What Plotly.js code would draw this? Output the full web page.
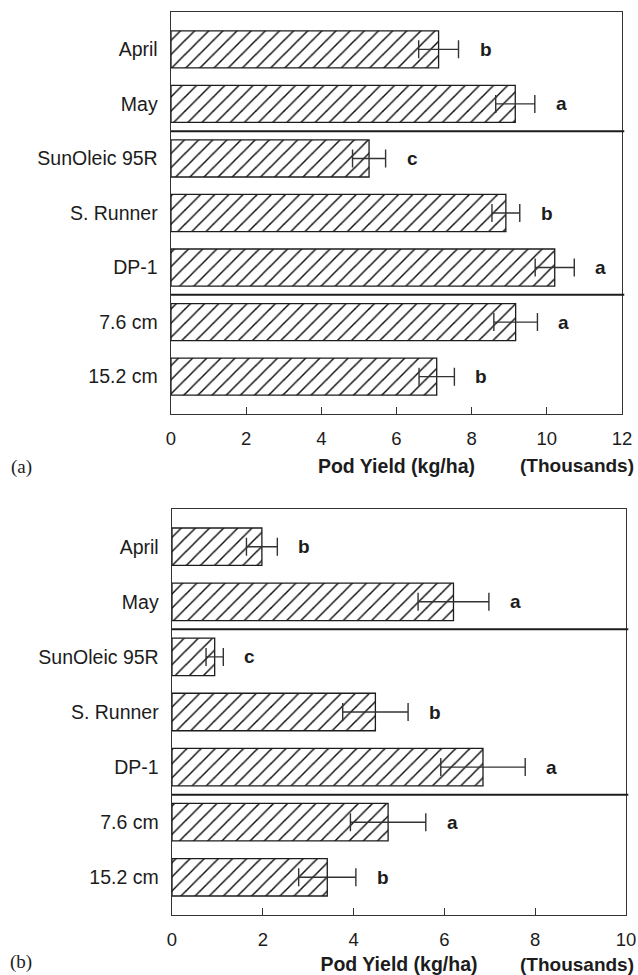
<!DOCTYPE html>
<html>
<head>
<meta charset="utf-8">
<script src="https://cdn.plot.ly/plotly-3.0.1.min.js"></script>
<style>
  html, body { margin: 0; padding: 0; background: #fff; }
  #chart { width: 638px; height: 975px; }
</style>
</head>
<body>
<div id="chart"></div>
<script>
// Treatments, listed top to bottom
const categories = ['April', 'May', 'SunOleic 95R', 'S. Runner', 'DP-1', '7.6 cm', '15.2 cm'];
// Treatment groups: planting date, cultivar, seeding depth
const groupSizes = [2, 3, 2];

// (a) pod yield, thousands of kg/ha, with error half-widths
const yieldA = [7.12, 9.16, 5.27, 8.91, 10.21, 9.17, 7.07];
const errorA = [0.53, 0.52, 0.44, 0.37, 0.52, 0.58, 0.47];
const lettersA = ['b', 'a', 'c', 'b', 'a', 'a', 'b'];

// (b) pod yield, thousands of kg/ha, with error half-widths
const yieldB = [1.98, 6.20, 0.94, 4.48, 6.85, 4.76, 3.42];
const errorB = [0.34, 0.78, 0.19, 0.72, 0.93, 0.83, 0.63];
const lettersB = ['b', 'a', 'c', 'b', 'a', 'a', 'b'];

const W = 638, H = 975;
const FONT = '"Liberation Sans", Arial, sans-serif';
const SERIF = '"Liberation Serif", "Times New Roman", serif';
const INK = '#1c1c1c';

function barTrace(values, errors, xa, ya) {
  return {
    type: 'bar',
    orientation: 'h',
    x: values,
    y: categories,
    xaxis: xa,
    yaxis: ya,
    width: 0.68,
    marker: {
      color: '#ffffff',
      line: { color: INK, width: 1.3 },
      pattern: { shape: '/', size: 10, solidity: 0.15, fgcolor: '#111', bgcolor: '#ffffff' }
    },
    error_x: { type: 'data', array: errors, visible: true, color: '#333', thickness: 1.4, width: 9 },
    hoverinfo: 'skip',
    showlegend: false
  };
}

function letterNotes(values, errors, letters, xr, yr) {
  return values.map((v, i) => ({
    x: v + errors[i], y: categories[i], xref: xr, yref: yr,
    text: '<b>' + letters[i] + '</b>', showarrow: false,
    xanchor: 'left', yanchor: 'middle', xshift: 19,
    font: { family: FONT, size: 19, color: INK }
  }));
}

function separators(xr, yr) {
  const out = [];
  let acc = 0;
  for (let g = 0; g < groupSizes.length - 1; g++) {
    acc += groupSizes[g];
    out.push({
      type: 'line', xref: xr + ' domain', yref: yr,
      x0: 0, x1: 1.005, y0: acc - 0.5, y1: acc - 0.5,
      line: { color: INK, width: 2 }
    });
  }
  return out;
}

function xAxis(domain, max, anchor) {
  return {
    domain: domain, anchor: anchor, range: [0, max], dtick: 2, tick0: 0,
    showgrid: false, zeroline: false, showline: true, mirror: true,
    linecolor: '#333', linewidth: 1.4,
    ticks: 'inside', ticklen: 7, tickwidth: 1.2, tickcolor: '#333',
    ticklabelstandoff: 7,
    tickfont: { family: FONT, size: 18.5, color: INK },
    title: { text: '<b>Pod Yield (kg/ha)</b>', standoff: 11,
             font: { family: FONT, size: 19.5, color: INK } },
    automargin: false, fixedrange: true
  };
}

function yAxis(domain, anchor) {
  return {
    domain: domain, anchor: anchor, type: 'category',
    range: [6.685, -0.685],
    showgrid: false, zeroline: false, showline: true, mirror: true,
    linecolor: '#333', linewidth: 1.4,
    ticks: '', ticklabelstandoff: 8,
    tickfont: { family: FONT, size: 19.5, color: INK },
    automargin: false, fixedrange: true
  };
}

const px = v => v / W, py = v => 1 - v / H;

const layout = {
  width: W, height: H,
  margin: { l: 0, r: 0, t: 0, b: 0 },
  paper_bgcolor: '#fff', plot_bgcolor: '#fff',
  font: { family: FONT },
  bargap: 0.32,
  xaxis: xAxis([px(171), px(622)], 12, 'y'),
  yaxis: yAxis([py(414), py(12)], 'x'),
  xaxis2: xAxis([px(172), px(626)], 10, 'y2'),
  yaxis2: yAxis([py(915), py(509)], 'x2'),
  shapes: separators('x', 'y').concat(separators('x2', 'y2')),
  annotations: [].concat(
    letterNotes(yieldA, errorA, lettersA, 'x', 'y'),
    letterNotes(yieldB, errorB, lettersB, 'x2', 'y2'),
    [
      { xref: 'paper', yref: 'paper', x: px(577), y: py(465), text: '<b>(Thousands)</b>',
        showarrow: false, xanchor: 'center', yanchor: 'middle',
        font: { family: FONT, size: 19, color: INK } },
      { xref: 'paper', yref: 'paper', x: px(577), y: py(964), text: '<b>(Thousands)</b>',
        showarrow: false, xanchor: 'center', yanchor: 'middle',
        font: { family: FONT, size: 19, color: INK } },
      { xref: 'paper', yref: 'paper', x: px(9), y: py(467), text: '(a)',
        showarrow: false, xanchor: 'left', yanchor: 'middle',
        font: { family: SERIF, size: 19, color: INK } },
      { xref: 'paper', yref: 'paper', x: px(8), y: py(962), text: '(b)',
        showarrow: false, xanchor: 'left', yanchor: 'middle',
        font: { family: SERIF, size: 19, color: INK } }
    ]
  )
};

const data = [
  barTrace(yieldA, errorA, 'x', 'y'),
  barTrace(yieldB, errorB, 'x2', 'y2')
];

Plotly.newPlot('chart', data, layout, { staticPlot: true });
</script>
</body>
</html>
